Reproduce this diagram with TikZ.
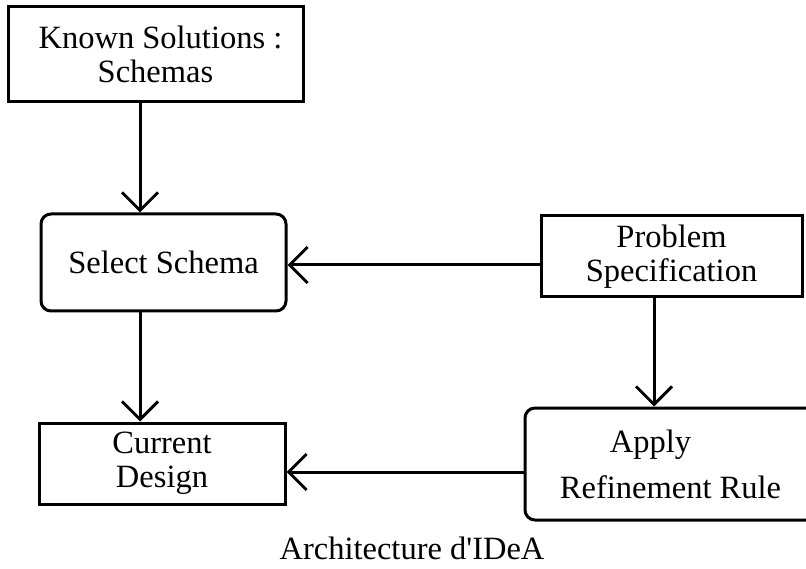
\documentclass[tikz,border=0pt]{standalone}
\usepackage{fontspec}
\setmainfont{Liberation Serif}[Ligatures=TeXOff]
\usetikzlibrary{arrows.meta,positioning}
\tikzstyle{block}=[draw,rectangle,line width=3pt,align=center,inner sep=0pt]

\begin{document}
\begin{tikzpicture}[
  x=1pt,
  y=-1pt,
  line width=3pt,
  font=\fontsize{32.5}{34}\selectfont,
  roundblock/.style={block, rounded corners=10pt},
  arr/.style={-{Straight Barb[length=18pt,width=36pt]}}
]
\useasboundingbox (0,0) rectangle (806,569);

\node [block, minimum width=295pt, minimum height=95pt] (known) at (155.5,54.5) {\hspace*{10pt}Known Solutions :\\Schemas};
\node [roundblock, minimum width=245pt, minimum height=97pt] (select) at (163.5,262.5) {\raisebox{-7pt}{Select Schema}};
\node [block, minimum width=261pt, minimum height=81pt] (spec) at (671.5,256.5) {Problem\\Specification};
\node [roundblock, minimum width=291pt, minimum height=112pt] (apply) at (670.5,464) {Apply\hspace*{40pt}\\[12pt]Refinement Rule};
\node [block, minimum width=246pt, minimum height=81pt] (current) at (162,463.5) {Current\\Design};
\node (caption) at (412,548) {Architecture d'IDeA};

% where the connectors run
\coordinate (lx) at (140,0);
\coordinate (rx) at (654,0);
\coordinate (ty) at (0,265);
\coordinate (by) at (0,472);

\draw [arr] (known.south -| lx) -- (select.north -| lx);
\draw [arr] (select.south -| lx) -- (current.north -| lx);
\draw [arr] (spec.west |- ty) -- (select.east |- ty);
\draw [arr] (spec.south -| rx) -- (apply.north -| rx);
\draw [arr] (apply.west |- by) -- (current.east |- by);

\end{tikzpicture}
\end{document}
